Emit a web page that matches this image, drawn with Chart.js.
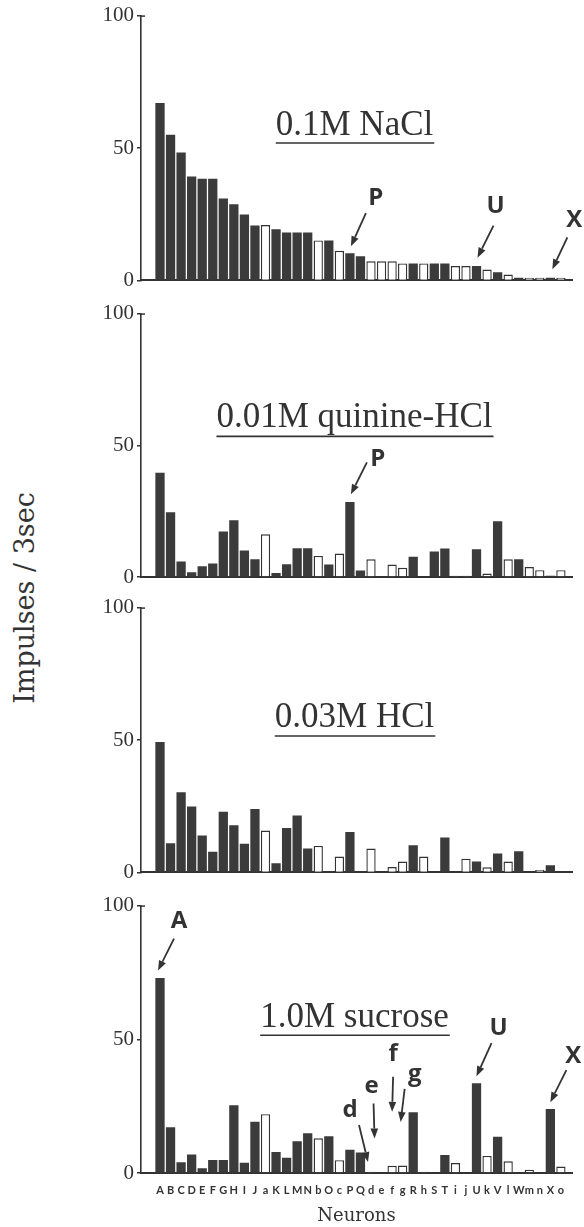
<!DOCTYPE html>
<html>
<head>
<meta charset="utf-8">
<script src="https://cdn.jsdelivr.net/npm/chart.js@4.4.0/dist/chart.umd.min.js"></script>
<style>
  html, body { margin: 0; padding: 0; background: #fff; }
  #fig { position: relative; width: 584px; height: 1227px; overflow: hidden; background: #fff; }
  #fig canvas { position: absolute; left: 0; }
  #ytitle {
    position: absolute; left: 24px; top: 598px;
    transform: translate(-50%, -50%) rotate(-90deg);
    font: 27px 'DejaVu Serif'; color: #333; white-space: nowrap;
  }
</style>
</head>
<body>
<div id="fig">
  <div id="ytitle">Impulses / 3sec</div>
  <canvas id="nacl" width="584" height="296" style="top:0px"></canvas>
  <canvas id="quinine" width="584" height="296" style="top:298px"></canvas>
  <canvas id="hcl" width="584" height="296" style="top:592px"></canvas>
  <canvas id="sucrose" width="584" height="337" style="top:890px"></canvas>
</div>
<script>
// neurons in the order of the figure; lower case = open bars
const neurons = ['A','B','C','D','E','F','G','H','I','J','a','K','L','M','N','b','O','c','P','Q',
                 'd','e','f','g','R','h','S','T','i','j','U','k','V','l','W','m','n','X','o'];

const nacl = [67, 55, 48.3, 39.2, 38.4, 38.4, 30.9, 28.8, 24.9, 20.7, 20.9, 19.3, 18.1, 18.1, 18.1, 15.1, 15.1, 11.2, 10.3, 9.1,
              7.2, 7.2, 7.2, 6.4, 6.4, 6.4, 6.4, 6.4, 5.4, 5.4, 5.4, 4.1, 3.1, 2.2, 1, 1, 1, 1, 1];
const quinine = [39.6, 24.6, 5.9, 1.8, 4.1, 5.1, 17.3, 21.5, 10.1, 6.7, 16.2, 1.5, 4.8, 10.9, 10.9, 8.0, 4.7, 8.9, 28.5, 2.5,
                 6.7, 0, 4.7, 3.5, 7.7, 0.3, 9.7, 10.8, 0.5, 0.5, 10.5, 1.3, 21.2, 6.7, 6.7, 3.8, 2.6, 0.5, 2.6];
const hcl = [49.2, 11.0, 30.3, 24.9, 13.9, 7.8, 22.9, 17.8, 10.8, 23.9, 15.8, 3.5, 16.8, 21.5, 9.0, 10.0, 0.4, 6.0, 15.3, 0.3,
             9.0, 0, 2.0, 4.1, 10.3, 6.0, 0, 13.2, 0.3, 5.2, 4.1, 1.9, 7.1, 4.1, 8.0, 0, 0.9, 2.7, 0];
const sucrose = [72.9, 17.1, 4.0, 6.9, 1.8, 4.9, 4.9, 25.3, 3.8, 19.2, 22.0, 7.9, 5.7, 11.9, 14.9, 13.0, 13.7, 4.8, 8.7, 7.7,
                 0.5, 0, 2.7, 2.8, 22.7, 0.5, 0, 6.7, 3.7, 0.3, 33.6, 6.4, 13.6, 4.4, 0.3, 1.2, 0.3, 23.9, 2.4];
const yTicks = [0, 50, 100];

const ink = '#333';
const barInk = '#3b3b3b';
const isOpen = i => neurons[i] !== neurons[i].toUpperCase();

// title, underline and arrow labels drawn inside each panel
const panelDeco = {
  id: 'panelDeco',
  afterDatasetsDraw(chart, args, opts) {
    const { ctx, chartArea, scales: { x, y } } = chart;
    ctx.save();
    ctx.fillStyle = ink;
    ctx.strokeStyle = ink;

    // little hook at the top of the y axis
    ctx.lineWidth = 1.5;
    ctx.beginPath();
    ctx.moveTo(chartArea.left, chartArea.top + 0.5);
    ctx.lineTo(chartArea.left + 4, chartArea.top + 0.5);
    ctx.stroke();

    ctx.font = "35px 'Liberation Serif'";
    ctx.textAlign = 'center';
    ctx.textBaseline = 'alphabetic';
    const cx = (chartArea.left + chartArea.right) / 2 - 2;
    ctx.fillText(opts.title, cx, y.getPixelForValue(opts.titleAt));
    const w = ctx.measureText(opts.title).width;
    const uy = y.getPixelForValue(opts.lineAt);
    ctx.lineWidth = 1.6;
    ctx.beginPath();
    ctx.moveTo(cx - w / 2, uy);
    ctx.lineTo(cx + w / 2 + 1, uy);
    ctx.stroke();

    ctx.font = "bold 24px 'Open Sans'";
    ctx.textBaseline = 'middle';
    opts.marks.forEach(m => {
      const tx = x.getPixelForValue(neurons.indexOf(m.at)) + (m.tx || 0);
      const ty = y.getPixelForValue(m.tip);
      const sx = tx + m.dx, sy = ty + m.dy;
      const ang = Math.atan2(ty - sy, tx - sx);
      const hl = 10, hw = 3.8;
      const bx = tx - hl * Math.cos(ang), by = ty - hl * Math.sin(ang);
      ctx.lineWidth = 1.8;
      ctx.beginPath();
      ctx.moveTo(sx, sy);
      ctx.lineTo(bx, by);
      ctx.stroke();
      ctx.beginPath();
      ctx.moveTo(tx, ty);
      ctx.lineTo(bx + hw * Math.sin(ang), by - hw * Math.cos(ang));
      ctx.lineTo(bx - hw * Math.sin(ang), by + hw * Math.cos(ang));
      ctx.closePath();
      ctx.fill();
      ctx.fillText(m.text, sx + m.lx, sy + m.ly);
    });
    ctx.restore();
  }
};

function makePanel(id, values, deco, withLabels, xHeight) {
  return new Chart(document.getElementById(id), {
    type: 'bar',
    data: {
      labels: neurons.map((n, i) => i),
      datasets: [{
        data: values,
        backgroundColor: c => isOpen(c.dataIndex) ? '#fff' : barInk,
        borderColor: ink,
        borderWidth: c => isOpen(c.dataIndex) ? 1.4 : 0,
        borderSkipped: 'start',
        barPercentage: 0.88,
        categoryPercentage: 1
      }]
    },
    options: {
      responsive: false,
      animation: false,
      events: [],
      layout: { padding: { top: 15, right: 12, left: 0, bottom: 0 } },
      plugins: {
        legend: { display: false },
        tooltip: { enabled: false },
        panelDeco: deco
      },
      scales: {
        x: {
          type: 'linear',
          min: -1.29,
          max: 38.54,
          grid: { display: false, drawTicks: false },
          border: { display: true, color: ink, width: 2 },
          ticks: {
            display: withLabels,
            stepSize: 1,
            autoSkip: false,
            includeBounds: false,
            maxRotation: 0,
            padding: 11,
            color: ink,
            font: { family: 'Lato', size: 11, weight: 'bold' },
            callback: v => neurons[v] ?? ''
          },
          title: {
            display: withLabels,
            text: 'Neurons',
            color: ink,
            font: { family: 'DejaVu Serif', size: 18 },
            padding: { top: 4, bottom: 0 }
          },
          afterFit: s => { s.height = xHeight; }
        },
        y: {
          min: 0,
          max: 100,
          afterBuildTicks: s => { s.ticks = yTicks.map(v => ({ value: v })); },
          grid: { display: true, drawOnChartArea: false, drawTicks: true, tickLength: 4, color: ink, lineWidth: 1.5 },
          border: { display: true, color: ink, width: 1.6 },
          ticks: { padding: 3, color: ink, font: { family: 'Liberation Serif', size: 21 } },
          afterFit: s => { s.width = 141; }
        }
      }
    },
    plugins: [panelDeco]
  });
}

makePanel('nacl', nacl, {
  title: '0.1M NaCl', titleAt: 54.9, lineAt: 51.9,
  marks: [
    { text: 'P', at: 'P', tip: 12.9, tx: 1, dx: 15, dy: -33, lx: 10, ly: -15 },
    { text: 'U', at: 'U', tip: 8.6, tx: 1, dx: 16, dy: -32, lx: 2, ly: -19 },
    { text: 'X', at: 'X', tip: 4.2, tx: 2, dx: 15, dy: -32, lx: 7, ly: -17 }
  ]
}, false, 13);

makePanel('quinine', quinine, {
  title: '0.01M quinine-HCl', titleAt: 56.8, lineAt: 53.4,
  marks: [
    { text: 'P', at: 'P', tip: 31.4, tx: 1, dx: 16, dy: -32, lx: 11, ly: -3 }
  ]
}, false, 17);

makePanel('hcl', hcl, {
  title: '0.03M HCl', titleAt: 54.9, lineAt: 51.5,
  marks: []
}, false, 13);

makePanel('sucrose', sucrose, {
  title: '1.0M sucrose', titleAt: 54.5, lineAt: 51.5,
  marks: [
    { text: 'A', at: 'A', tip: 75.7, tx: -2, dx: 16, dy: -32, lx: 5, ly: -17 },
    { text: 'U', at: 'U', tip: 36.2, tx: 0, dx: 15, dy: -33, lx: 7, ly: -15 },
    { text: 'X', at: 'X', tip: 26.5, tx: 0, dx: 16, dy: -32, lx: 7, ly: -14 },
    { text: 'd', at: 'd', tip: 4.1, tx: -3, dx: -9, dy: -37, lx: -9, ly: -15 },
    { text: 'e', at: 'e', tip: 12.9, tx: -7, dx: -1, dy: -35, lx: -2, ly: -17 },
    { text: 'f', at: 'f', tip: 22.9, tx: 0, dx: 1, dy: -35, lx: 0, ly: -23 },
    { text: 'g', at: 'g', tip: 19.1, tx: -2, dx: 4, dy: -33, lx: 10, ly: -15 }
  ]
}, true, 54);
</script>
</body>
</html>
